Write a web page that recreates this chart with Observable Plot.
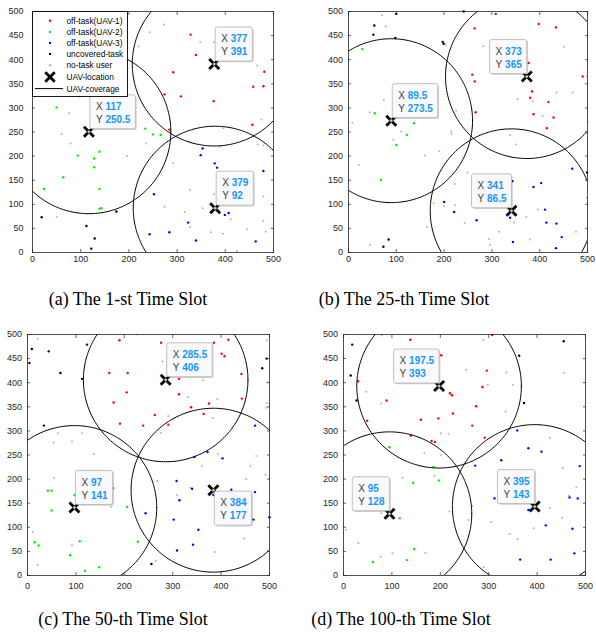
<!DOCTYPE html>
<html><head><meta charset="utf-8">
<script src="https://cdn.jsdelivr.net/npm/d3@7"></script>
<script src="https://cdn.jsdelivr.net/npm/@observablehq/plot@0.6"></script>
<style>
body{margin:0;background:#fff;}
#wrap{position:relative;width:596px;height:637px;overflow:hidden;background:#fff;}
.panel{position:absolute;}
.cap{position:absolute;font-family:"Liberation Serif","Times New Roman",serif;font-size:18px;line-height:1;color:#000;white-space:nowrap;transform:translateX(-50%);}
#legend{position:absolute;}
</style></head><body><div id="wrap"></div>
<script>
// ---------- data ----------
const xTicks = [0, 100, 200, 300, 400, 500];
const yTicks = [0, 50, 100, 150, 200, 250, 300, 350, 400, 450, 500];
const captions = ["(a) The 1-st Time Slot", "(b) The 25-th Time Slot", "(c) The 50-th Time Slot", "(d) The 100-th Time Slot"];
const legendLabels = ["off-task(UAV-1)", "off-task(UAV-2)", "off-task(UAV-3)", "uncovered-task", "no-task user", "UAV-location", "UAV-coverage"];
const coverageRadius = 170;

// (a) 1st time slot  — UAV order: UAV-1, UAV-2, UAV-3
const a_uav = [[377, 391], [117, 250.5], [379, 92]];
const a_red = [[328,452],[339,410],[292,374],[274,328],[308,324],[376,314],[284,255],[481,375],[458,344],[479,345],[456,265]];
const a_green = [[50,301],[98,324],[94,201],[139,209],[128,195],[128,177],[64,156],[24,132],[139,132],[139,91],[143,92],[234,257],[250,245],[266,244]];
const a_blue = [[353,216],[349,202],[378,185],[383,176],[479,169],[252,121],[243,38],[284,42],[323,62],[339,25],[399,78],[407,82],[463,23]];
const a_black = [[19,73],[112,55],[129,29],[122,8],[174,85]];
const a_gray = [[273,473],[243,457],[220,428],[348,436],[376,436],[466,388],[475,276],[396,258],[467,224],[479,222],[390,220],[236,226],[210,270],[76,289],[60,246],[79,226],[196,200],[292,185],[327,130],[376,121],[274,95],[316,84],[327,53],[353,92],[370,42],[395,39],[411,69],[445,48],[479,116],[479,66],[484,43],[424,3],[50,74]];

// (b) 25th time slot
const b_uav = [[373, 365], [89.5, 273.5], [341, 86.5]];
const b_red = [[308,495],[264,465],[398,474],[434,467],[377,393],[259,369],[264,355],[490,365],[384,334],[380,321],[418,312],[266,291],[387,287],[429,280],[415,258]];
const b_green = [[29,422],[55,289],[137,268],[122,244],[100,223],[68,151]];
const b_blue = [[468,174],[343,148],[387,136],[403,144],[200,105],[221,84],[268,67],[338,72],[411,89],[414,62],[435,60],[446,32],[344,22],[434,9]];
const b_black = [[54,471],[52,452],[100,495],[241,500],[98,445],[197,437],[199,433],[84,27],[73,12],[499,166]];
const b_gray = [[70,492],[78,469],[203,431],[282,428],[451,427],[499,365],[435,332],[469,332],[354,318],[386,314],[406,283],[8,269],[45,291],[74,316],[166,349],[110,251],[94,234],[215,251],[216,246],[225,294],[160,201],[190,210],[22,182],[338,243],[351,224],[500,270],[249,166],[222,142],[178,102],[200,96],[223,98],[264,105],[243,61],[164,53],[45,16],[294,28],[296,16],[315,43],[380,27],[372,74],[396,89],[346,62],[476,43],[499,114]];

// (c) 50th time slot
const c_uav = [[285.5, 406], [97, 141], [384, 177]];
const c_red = [[190,488],[276,483],[385,483],[415,489],[401,460],[407,455],[169,420],[207,420],[313,408],[442,418],[205,380],[313,376],[178,359],[375,357],[338,349],[443,367],[364,335],[263,333],[191,315],[239,311],[291,313]];
const c_green = [[42,176],[50,176],[97,167],[177,181],[50,135],[206,142],[15,69],[23,62],[108,71],[228,70],[88,42],[119,10],[148,17]];
const c_blue = [[470,311],[345,246],[372,256],[403,243],[308,196],[340,180],[314,156],[384,167],[421,178],[470,173],[244,129],[302,116],[353,95],[467,116],[500,121],[342,64],[309,52]];
const c_black = [[9,470],[44,465],[4,441],[68,420],[113,408],[123,479],[34,311],[494,450],[485,430],[256,24]];
const c_gray = [[21,491],[227,500],[495,488],[279,444],[363,405],[495,401],[332,370],[392,366],[494,358],[494,348],[383,327],[291,331],[276,296],[63,295],[113,295],[54,276],[92,278],[137,252],[124,216],[55,203],[173,142],[268,196],[309,167],[336,182],[360,227],[393,252],[473,248],[461,227],[452,200],[492,209],[11,91],[92,63],[21,22],[265,30],[448,77],[387,49],[496,52]];

// (d) 100th time slot
const d_uav = [[197.5, 393], [95, 128], [395, 143]];
const d_red = [[138,489],[307,499],[202,457],[296,425],[30,403],[287,391],[220,378],[224,374],[89,363],[274,351],[226,336],[196,326],[160,323],[49,321],[266,311],[139,290],[292,286],[182,279],[189,277]];
const d_green = [[95,266],[186,225],[144,192],[197,197],[116,119],[146,55],[131,32],[61,28]];
const d_blue = [[359,301],[382,264],[409,257],[326,239],[272,228],[488,227],[312,160],[382,136],[387,136],[467,162],[484,160],[418,104],[473,97],[477,46],[365,33],[428,33]];
const d_black = [[18,479],[15,415],[27,363],[363,456],[373,358],[455,486]];
const d_gray = [[79,498],[289,488],[254,427],[337,421],[350,396],[298,396],[456,420],[335,340],[47,381],[78,357],[201,295],[217,294],[167,254],[202,250],[426,286],[453,223],[122,203],[188,207],[219,133],[266,144],[258,115],[305,111],[343,86],[360,75],[393,98],[426,140],[452,120],[481,183],[466,166],[5,95],[31,67],[77,39],[101,46],[169,47],[78,129],[290,17],[492,3]];

// ---------- styling / layout ----------
const panels = [
  {uav: a_uav, red: a_red, green: a_green, blue: a_blue, black: a_black, gray: a_gray},
  {uav: b_uav, red: b_red, green: b_green, blue: b_blue, black: b_black, gray: b_gray},
  {uav: c_uav, red: c_red, green: c_green, blue: c_blue, black: c_black, gray: c_gray},
  {uav: d_uav, red: d_red, green: d_green, blue: d_blue, black: d_black, gray: d_gray}
];
const tipSides = [["ne","ne","ne"], ["nw","ne","nw"], ["ne","ne","se"], ["nw","nw","nw"]];
const layout = [
  {left: 0,   top: 0,   width: 290, height: 270, ml: 32, mr: 17, mt: 11, mb: 18, yPad: 9,   xPad: 3,   capX: 128, capY: 305},
  {left: 300, top: 0,   width: 296, height: 270, ml: 48, mr: 9,  mt: 11, mb: 18, yPad: 5.5, xPad: 3,   capX: 404, capY: 305},
  {left: 0,   top: 320, width: 290, height: 270, ml: 27, mr: 21, mt: 14, mb: 15, yPad: 5.5, xPad: 7.5, capX: 123, capY: 625},
  {left: 300, top: 320, width: 296, height: 270, ml: 43, mr: 11, mt: 14, mb: 15, yPad: 5.5, xPad: 7.5, capX: 401, capY: 625}
];
const colors = {red: "#ff0000", green: "#00ee00", blue: "#0000ff", black: "#000000", gray: "#b4b4b4"};
const axisColor = "#262626";
const tipFont = 10;

const cvs = document.createElement("canvas").getContext("2d");
function textW(s, bold) { cvs.font = `${bold ? "bold " : ""}${tipFont}px "Liberation Sans"`; return cvs.measureText(s).width; }

function boxSymbol(x0, y0, w, h, rad, shift) {
  return {draw(c) {
    const a = x0 + shift, b = y0 + shift, e = a + w, f = b + h;
    c.moveTo(a + rad, b);
    c.lineTo(e - rad, b); c.arcTo(e, b, e, b + rad, rad);
    c.lineTo(e, f - rad); c.arcTo(e, f, e - rad, f, rad);
    c.lineTo(a + rad, f); c.arcTo(a, f, a, f - rad, rad);
    c.lineTo(a, b + rad); c.arcTo(a, b, a + rad, b, rad);
    c.closePath();
  }};
}

function circlePts(uav) {
  const out = [];
  uav.forEach(([cx, cy], k) => {
    for (let i = 0; i <= 240; i++) {
      const t = (i / 240) * 2 * Math.PI;
      out.push({k, x: cx + coverageRadius * Math.cos(t), y: cy + coverageRadius * Math.sin(t)});
    }
  });
  return out;
}

const wrap = document.getElementById("wrap");

panels.forEach((p, pi) => {
  const L = layout[pi];
  const pts = (arr, c, r) => Plot.dot(arr, {x: d => d[0], y: d => d[1], r, fill: c, stroke: "none"});
  const tipMarks = [];
  p.uav.forEach((u, k) => {
    const side = tipSides[pi][k];
    const vx = String(u[0]), vy = String(u[1]);
    const w = 15.5 + Math.max(textW(vx, true), textW(vy, true)) + 5;
    const h = 34;
    const x0 = side === "nw" ? -w : 1;
    const y0 = side === "se" ? 1 : -3 - h;
    const one = [u];
    tipMarks.push(
      Plot.dot(one, {x: d => d[0], y: d => d[1], r: 1, symbol: boxSymbol(x0, y0, w, h, 2, 1.3), fill: "#000", fillOpacity: 0.18, stroke: "none"}),
      Plot.dot(one, {x: d => d[0], y: d => d[1], r: 1, symbol: boxSymbol(x0, y0, w, h, 2, 0), fill: "#fafafd", stroke: "#b9b9b9", strokeWidth: 0.9}),
      Plot.text(one, {x: d => d[0], y: d => d[1], text: () => "X", dx: x0 + 6, dy: y0 + 12, textAnchor: "start", fontSize: tipFont, fill: "#404040"}),
      Plot.text(one, {x: d => d[0], y: d => d[1], text: () => "Y", dx: x0 + 6, dy: y0 + 25, textAnchor: "start", fontSize: tipFont, fill: "#404040"}),
      Plot.text(one, {x: d => d[0], y: d => d[1], text: d => String(d[0]), dx: x0 + 15.5, dy: y0 + 12, textAnchor: "start", fontSize: tipFont, fontWeight: "bold", fill: "#1496ff"}),
      Plot.text(one, {x: d => d[0], y: d => d[1], text: d => String(d[1]), dx: x0 + 15.5, dy: y0 + 25, textAnchor: "start", fontSize: tipFont, fontWeight: "bold", fill: "#1496ff"})
    );
  });

  const chart = Plot.plot({
    width: L.width, height: L.height,
    marginLeft: L.ml, marginRight: L.mr, marginTop: L.mt, marginBottom: L.mb,
    x: {domain: [0, 500]},
    y: {domain: [0, 500]},
    style: {fontFamily: '"Liberation Sans", Arial, sans-serif', fontSize: "9px", background: "transparent", overflow: "visible"},
    marks: [
      pts(p.gray, colors.gray, 1.0),
      pts(p.black, colors.black, 1.2),
      pts(p.red, colors.red, 1.2),
      pts(p.green, colors.green, 1.2),
      pts(p.blue, colors.blue, 1.2),
      Plot.line(circlePts(p.uav), {x: "x", y: "y", z: "k", stroke: "#000", strokeWidth: 1, clip: true}),
      Plot.dot(p.uav, {x: d => d[0], y: d => d[1], symbol: "times", r: 4.6, stroke: "#000", strokeWidth: 2.8}),
      Plot.dot(p.uav, {x: d => d[0], y: d => d[1], r: 1.6, fill: "#d4d49a", stroke: "#333", strokeWidth: 0.6}),
      ...tipMarks,
      Plot.axisX(xTicks, {anchor: "bottom", tickSize: 0, tickPadding: L.xPad, label: null, fill: axisColor, fontSize: 9}),
      Plot.axisY(yTicks, {anchor: "left", tickSize: 0, tickPadding: L.yPad, label: null, fill: axisColor, fontSize: 9}),
      Plot.axisX(xTicks, {anchor: "bottom", tickSize: 3, dy: -3, tickFormat: () => "", label: null, stroke: axisColor, strokeWidth: 0.7}),
      Plot.axisX(xTicks, {anchor: "top", tickSize: 3, dy: 3, tickFormat: () => "", label: null, stroke: axisColor, strokeWidth: 0.7}),
      Plot.axisY(yTicks, {anchor: "left", tickSize: 3, dx: 3, tickFormat: () => "", label: null, stroke: axisColor, strokeWidth: 0.7}),
      Plot.axisY(yTicks, {anchor: "right", tickSize: 3, dx: -3, tickFormat: () => "", label: null, stroke: axisColor, strokeWidth: 0.7}),
      Plot.frame({stroke: axisColor, strokeWidth: 0.8})
    ]
  });
  chart.classList.add("panel");
  chart.style.left = L.left + "px";
  chart.style.top = L.top + "px";
  wrap.appendChild(chart);

  const cap = document.createElement("div");
  cap.className = "cap";
  cap.textContent = captions[pi];
  cap.style.left = L.capX + "px";
  cap.style.top = (L.capY - 0.8375 * 18) + "px";
  wrap.appendChild(cap);
});

// ---------- legend (panel a) ----------
(function () {
  const W = 95, H = 85, rows = [9.7, 21, 31.9, 42.9, 54.3, 66, 77.6];
  const svg = d3.create("svg").attr("id", "legend").attr("width", W + 1).attr("height", H + 1)
    .style("left", "31.5px").style("top", "10.5px");
  svg.append("rect").attr("x", 0.5).attr("y", 0.5).attr("width", W).attr("height", H).attr("fill", "#fff").attr("stroke", "#000").attr("stroke-width", 0.9);
  const mk = [colors.red, colors.green, colors.blue, colors.black, colors.gray];
  mk.forEach((c, i) => svg.append("circle").attr("cx", 18).attr("cy", rows[i]).attr("r", 1.2).attr("fill", c));
  svg.append("path").attr("d", d3.symbol(d3.symbolTimes, 60)()).attr("transform", `translate(18,${rows[5]})`).attr("stroke", "#000").attr("stroke-width", 2.8).attr("fill", "none");
  svg.append("line").attr("x1", 3).attr("x2", 31).attr("y1", rows[6]).attr("y2", rows[6]).attr("stroke", "#000").attr("stroke-width", 1);
  legendLabels.forEach((t, i) => svg.append("text").attr("x", 34.5).attr("y", rows[i]).attr("dy", "0.35em")
    .attr("font-family", '"Liberation Sans", Arial, sans-serif').attr("font-size", 8.3).attr("fill", "#000").text(t));
  wrap.appendChild(svg.node());
})();
</script>
</body></html>
